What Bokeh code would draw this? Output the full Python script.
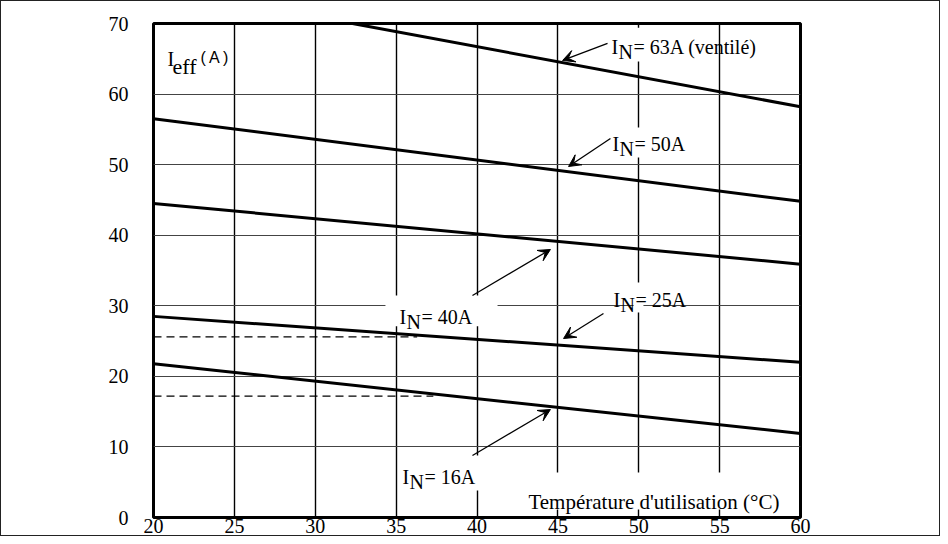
from bokeh.plotting import figure
from bokeh.models import Range1d, FixedTicker, Label, Arrow, VeeHead, BoxAnnotation
from bokeh.core.properties import value
from bokeh.embed import file_html
from bokeh.resources import INLINE

# ---- data ----
x_ticks = [20, 25, 30, 35, 40, 45, 50, 55, 60]
y_ticks = [0, 10, 20, 30, 40, 50, 60, 70]

temps = [20, 60]
i_50 = [56.5, 44.8]
i_40 = [44.5, 35.9]
i_25 = [28.5, 22.0]
i_16 = [21.8, 11.9]
temps_63 = [32.3, 60]
i_63 = [70.0, 58.2]

dash25_x = [20, 36.3]
dash25_y = [25.6, 25.6]
dash16_x = [20, 37.3]
dash16_y = [17.2, 17.2]

# curve labels: text, label anchor (temp, current), arrow tail, arrow head
curve_labels = [
    ("= 63A (ventilé)", (48.32, 66.6), (48.07, 67.17), (45.29, 64.76)),
    ("= 50A", (48.38, 52.86), (48.25, 53.71), (45.66, 49.74)),
    ("= 40A", (35.21, 28.48), (39.72, 31.46), (44.54, 37.98)),
    ("= 25A", (48.44, 30.75), (47.82, 28.91), (45.35, 25.36)),
    ("= 16A", (35.39, 5.67), (39.72, 8.79), (44.54, 15.30)),
]
# white masks behind texts (left, right, bottom, top)
masks = [
    (34.34, 41.27, 27.1, 31.46),
    (35.15, 40.34, 3.83, 8.79),
    (42.69, 59.38, 1.13, 6.38),
    (49.68, 50.29, 64.6, 69.4),
    (49.68, 50.29, 51.0, 55.26),
    (49.68, 50.29, 29.05, 33.3),
]

p = figure(width=940, height=536, output_backend="svg", toolbar_location=None,
           x_range=Range1d(20, 60), y_range=Range1d(0, 70),
           min_border_left=152, min_border_right=141, min_border_top=22,
           min_border_bottom=20)
p.styles = {"border": "1px solid #222"}
p.background_fill_color = "white"
p.border_fill_color = "white"
p.outline_line_color = "black"
p.outline_line_width = 3

for ax in (p.xaxis[0], p.yaxis[0]):
    ax.axis_line_color = None
    ax.major_tick_line_color = None
    ax.minor_tick_line_color = None
    ax.major_tick_out = 0
    ax.major_tick_in = 0
    ax.major_label_text_font = "Liberation Serif"
    ax.major_label_text_font_size = "20px"
    ax.major_label_text_color = "black"
p.xaxis.ticker = FixedTicker(ticks=x_ticks)
p.yaxis.ticker = FixedTicker(ticks=y_ticks)
p.xaxis.major_label_standoff = 1
p.yaxis.major_label_standoff = 25

p.xgrid.grid_line_color = "black"
p.xgrid.grid_line_width = 1.4
p.xgrid.grid_line_alpha = 1
p.ygrid.grid_line_color = "#444444"
p.ygrid.grid_line_width = 1
p.ygrid.grid_line_alpha = 1

for (l, r, b, t) in masks:
    p.add_layout(BoxAnnotation(left=l, right=r, bottom=b, top=t, fill_color="white",
                               fill_alpha=1, line_color=None, level="underlay"))

for ys in (i_50, i_40, i_25, i_16):
    p.line(temps, ys, line_width=3, line_color="black")
p.line(temps_63, i_63, line_width=3, line_color="black")
p.line(dash25_x, dash25_y, line_width=1.3, line_color="black", line_dash="8 5")
p.line(dash16_x, dash16_y, line_width=1.3, line_color="black", line_dash="8 5")

def lab(x, y, text, size="20px", xo=0, yo=0, font="Liberation Serif"):
    p.add_layout(Label(x=x, y=y, text=text, x_offset=xo, y_offset=yo,
                       text_font=font, text_font_size=size, text_color="black",
                       text_baseline="alphabetic", text_align="left"))

for text, (lx, ly), (tx, ty), (hx, hy) in curve_labels:
    lab(lx, ly, "I")
    lab(lx, ly, "N", xo=7, yo=-5)
    lab(lx, ly, text, xo=22)
    p.add_layout(Arrow(end=VeeHead(size=12, fill_color="black", line_color="black", line_width=1),
                       x_start=tx, y_start=ty, x_end=hx, y_end=hy,
                       line_width=1.3, line_color="black"))

# axis titles inside the plot
lab(20.87, 65.04, "I")
lab(20.87, 65.04, "eff", size="22px", xo=5, yo=-8)
lab(22.91, 65.18, "(\u2009A\u2009)", size="16px", font="Liberation Sans")
lab(43.18, 2.13, "Température d'utilisation (°C)", size="21px")

open("out.html", "w").write(file_html(p, INLINE))
